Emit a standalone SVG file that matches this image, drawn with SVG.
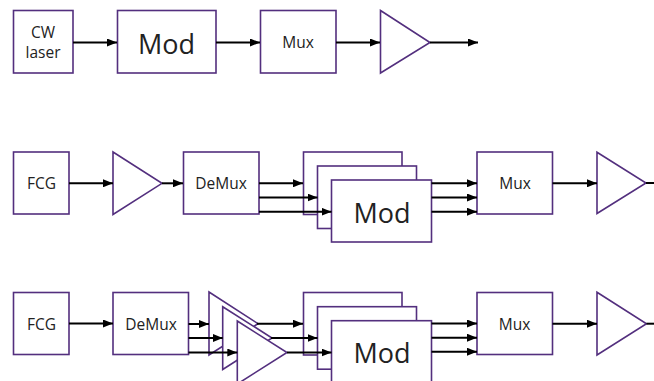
<svg xmlns="http://www.w3.org/2000/svg" width="654" height="381" viewBox="0 0 654 381">
<style>
.n{fill:#fff;stroke:#532f7e;stroke-width:1.6}
.t{font-family:"Open Sans","Noto Sans",sans-serif;font-size:15.5px;fill:#222;text-anchor:middle}
.big{font-size:27px}
.c{stroke:#000;stroke-width:2;fill:none}
.a{marker-end:url(#ah)}
</style>
<defs>
<marker id="ah" markerUnits="userSpaceOnUse" markerWidth="10" markerHeight="8" refX="10" refY="4" orient="auto" viewBox="0 0 10 8">
<path d="M0,0 L10,4 L0,8 z" fill="#000"/>
</marker>
</defs>
<rect width="654" height="381" fill="#fff"/>
<!-- Row 1 -->
<g id="cw"><rect class="n" x="13.5" y="10.5" width="59.5" height="62.5"/><text class="t" x="43" y="37.5">CW</text><text class="t" x="43" y="58">laser</text></g>
<g id="mod1"><rect class="n" x="117.5" y="10.5" width="98.5" height="62.5"/><text class="t big" x="166.5" y="54">Mod</text></g>
<g id="mux1"><rect class="n" x="260.5" y="10.5" width="75.5" height="62.5"/><text class="t" x="298" y="48">Mux</text></g>
<g id="amp1"><polygon class="n" points="380.5,10.5 430,42.5 380.5,73"/></g>
<!-- Row 2 -->
<g id="fcg2"><rect class="n" x="13.5" y="152" width="55.5" height="62"/><text class="t" x="41.5" y="189">FCG</text></g>
<g id="amp2a"><polygon class="n" points="113,152 162,183.3 113,214.5"/></g>
<g id="demux2"><rect class="n" x="183.5" y="152" width="75.5" height="62"/><text class="t" x="221" y="189">DeMux</text></g>
<g id="mod2a"><rect class="n" x="303.5" y="152" width="98.5" height="62.5"/></g>
<g id="mod2b"><rect class="n" x="317.5" y="166" width="99" height="62.5"/></g>
<g id="mod2c"><rect class="n" x="331.5" y="180" width="100" height="62"/><text class="t big" x="382" y="222.5">Mod</text></g>
<g id="mux2"><rect class="n" x="477" y="152" width="75.5" height="62"/><text class="t" x="515" y="189">Mux</text></g>
<g id="amp2b"><polygon class="n" points="597,152.3 646,183 597,213.5"/></g>
<!-- Row 3 -->
<g id="fcg3"><rect class="n" x="13.5" y="292.5" width="55.5" height="62"/><text class="t" x="41.5" y="330">FCG</text></g>
<g id="demux3"><rect class="n" x="113" y="292.5" width="75.5" height="62"/><text class="t" x="151" y="330">DeMux</text></g>
<g id="amp3a"><polygon class="n" points="209,292 258,323.7 209,355"/></g>
<g id="amp3b"><polygon class="n" points="222.7,306.7 272,338 222.7,369.5"/></g>
<g id="amp3c"><polygon class="n" points="237.3,321 287,352.5 237.3,384"/></g>
<g id="mod3a"><rect class="n" x="303.5" y="292.5" width="98.5" height="62.5"/></g>
<g id="mod3b"><rect class="n" x="317.5" y="306.7" width="99" height="62.5"/></g>
<g id="mod3c"><rect class="n" x="331.5" y="320.7" width="100" height="70"/><text class="t big" x="382" y="362.5">Mod</text></g>
<g id="mux3"><rect class="n" x="477" y="292.5" width="75.5" height="62"/><text class="t" x="514.5" y="330">Mux</text></g>
<g id="amp3d"><polygon class="n" points="597,292.3 646.5,323.7 597,355"/></g>
<!-- Connectors -->
<g id="connectors">
<line class="c a" x1="73" y1="42.5" x2="117" y2="42.5"/>
<line class="c a" x1="216" y1="42.5" x2="260" y2="42.5"/>
<line class="c a" x1="336" y1="42.5" x2="380" y2="42.5"/>
<line class="c a" x1="430" y1="42.5" x2="478" y2="42.5"/>

<line class="c a" x1="69" y1="183.3" x2="113" y2="183.3"/>
<line class="c a" x1="162" y1="183.3" x2="183" y2="183.3"/>
<line class="c a" x1="259" y1="183.3" x2="303" y2="183.3"/>
<line class="c a" x1="259" y1="197.5" x2="317.5" y2="197.5"/>
<line class="c a" x1="259" y1="211.7" x2="331.5" y2="211.7"/>
<line class="c a" x1="431.5" y1="183.3" x2="477" y2="183.3"/>
<line class="c a" x1="431.5" y1="197.5" x2="477" y2="197.5"/>
<line class="c a" x1="431.5" y1="211.7" x2="477" y2="211.7"/>
<line class="c a" x1="552.5" y1="183.3" x2="597" y2="183.3"/>
<line class="c" x1="646" y1="183" x2="654" y2="183"/>

<line class="c a" x1="69" y1="323.5" x2="113" y2="323.5"/>
<line class="c a" x1="188.5" y1="324" x2="209" y2="324"/>
<line class="c a" x1="188.5" y1="338" x2="222.7" y2="338"/>
<line class="c a" x1="188.5" y1="352.5" x2="237.3" y2="352.5"/>
<line class="c a" x1="257" y1="323.7" x2="303" y2="323.7"/>
<line class="c a" x1="271" y1="338" x2="317.5" y2="338"/>
<line class="c a" x1="287" y1="352.5" x2="331.5" y2="352.5"/>
<line class="c a" x1="431.5" y1="323.5" x2="477" y2="323.5"/>
<line class="c a" x1="431.5" y1="337.7" x2="477" y2="337.7"/>
<line class="c a" x1="431.5" y1="351.7" x2="477" y2="351.7"/>
<line class="c a" x1="552.5" y1="323.7" x2="597" y2="323.7"/>
<line class="c" x1="646.5" y1="323.7" x2="654" y2="323.7"/>
</g>
</svg>
